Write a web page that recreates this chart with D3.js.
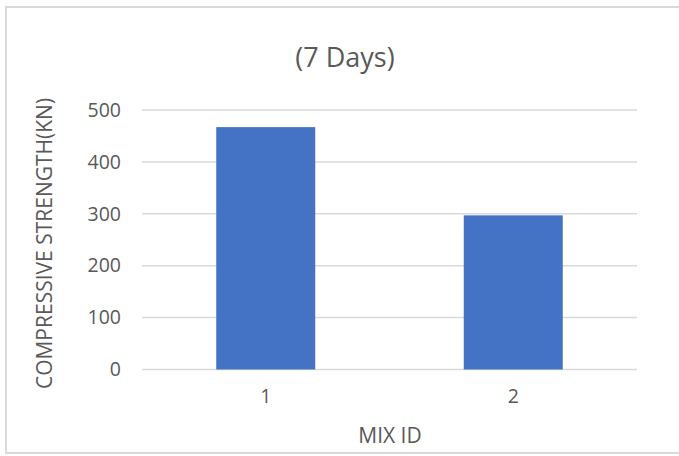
<!DOCTYPE html>
<html>
<head>
<meta charset="utf-8">
<script src="https://cdn.jsdelivr.net/npm/d3@7"></script>
<style>
  html, body { margin: 0; padding: 0; background: #fff; }
  svg { display: block; }
  text { font-family: "Open Sans", "Noto Sans", sans-serif; fill: #595959; }
</style>
</head>
<body>
<script>
const categories = ["1", "2"];
const values = [467, 297];
const yTicks = [0, 100, 200, 300, 400, 500];
const chartTitle = "(7 Days)";
const xTitle = "MIX ID";
const yTitle = "COMPRESSIVE STRENGTH(KN)";

const W = 679, H = 456;
const svg = d3.select("body").append("svg").attr("width", W).attr("height", H);

svg.append("rect").attr("x", 0).attr("y", 0).attr("width", W).attr("height", H).attr("fill", "#fff");
svg.append("rect")
  .attr("x", 6).attr("y", 7).attr("width", W + 10).attr("height", 446)
  .attr("fill", "none").attr("stroke", "#d9d9d9").attr("stroke-width", 2);

const x = d3.scaleBand().domain(categories).range([142, 637]).paddingInner(0.6).paddingOuter(0.3);
const y = d3.scaleLinear().domain([0, 500]).range([369.5, 110]);

// gridlines
svg.append("g").selectAll("line").data(yTicks).join("line")
  .attr("x1", 142).attr("x2", 637)
  .attr("y1", d => y(d)).attr("y2", d => y(d))
  .attr("stroke", "#d9d9d9").attr("stroke-width", 1.5);

// bars
svg.append("g").selectAll("rect").data(values).join("rect")
  .attr("x", (d, i) => x(categories[i]))
  .attr("width", x.bandwidth())
  .attr("y", d => y(d))
  .attr("height", d => y(0) - y(d))
  .attr("fill", "#4472c4");

// y axis labels
const yAxis = d3.axisLeft(y).tickValues(yTicks).tickSize(0).tickPadding(0);
const gy = svg.append("g").attr("transform", "translate(121,0)").call(yAxis);
gy.select(".domain").remove();
gy.selectAll("text").attr("font-size", 19.5).attr("font-family", "'Open Sans', sans-serif").attr("fill", "#595959");

// x axis labels
const xAxis = d3.axisBottom(x).tickSize(0).tickPadding(0);
const gx = svg.append("g").attr("transform", "translate(0,389)").call(xAxis);
gx.select(".domain").remove();
gx.selectAll("text").attr("font-size", 19.5).attr("font-family", "'Open Sans', sans-serif").attr("fill", "#595959");

// title
svg.append("text").attr("x", 345).attr("y", 67).attr("text-anchor", "middle")
  .attr("font-size", 27).text(chartTitle);

// x title
svg.append("text").attr("x", 390).attr("y", 443).attr("text-anchor", "middle")
  .attr("font-size", 21).text(xTitle);

// y title
svg.append("text").attr("transform", "translate(52,243.5) rotate(-90)")
  .attr("text-anchor", "middle").attr("font-size", 21).text(yTitle);
</script>
</body>
</html>
